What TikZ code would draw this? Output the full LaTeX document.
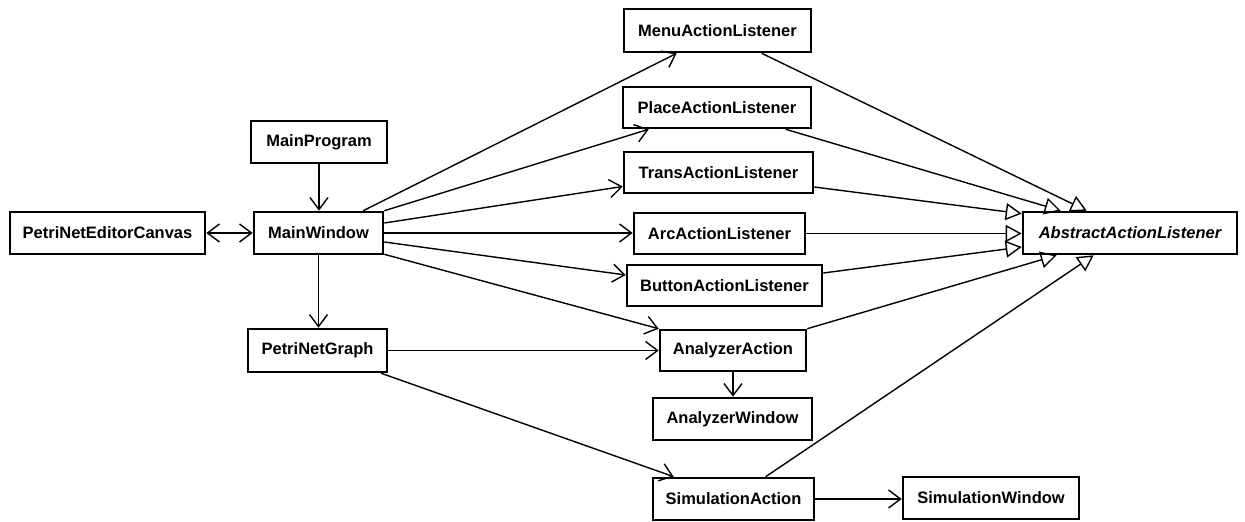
\documentclass[tikz,border=0pt]{standalone}
\usepackage{fontspec}
\setmainfont{Liberation Sans}
\usetikzlibrary{arrows.meta,calc}
\begin{document}
\begin{tikzpicture}[x=1pt,y=-1pt,
  box/.style={draw, line width=2.6pt, inner sep=0pt, fill=white,
    font=\fontsize{16.5}{19}\selectfont\bfseries},
  dep/.style={line width=1.4pt, -{Straight Barb[length=12pt,width=18pt,line width=1.4pt]}},
  bidep/.style={line width=1.4pt, {Straight Barb[length=12pt,width=18pt,line width=1.4pt]}-{Straight Barb[length=12pt,width=18pt,line width=1.4pt]}},
  gen/.style={line width=1.4pt, -{Triangle[open,length=16pt,width=17pt,line width=1.4pt]}}]
\useasboundingbox (0,0) rectangle (1245,522);
\fill[white] (0,0) rectangle (1245,522);

% boxes
\node[box, minimum width=187pt, minimum height=43pt] (menu)   at (717.5,30.5) {MenuActionListener};
\node[box, minimum width=188pt, minimum height=41pt] (place)  at (717,107.5) {PlaceActionListener};
\node[box, minimum width=189pt, minimum height=41pt] (trans)  at (718.5,172.5) {TransActionListener};
\node[box, minimum width=171pt, minimum height=41pt] (arc)    at (719.5,233.5) {ArcActionListener};
\node[box, minimum width=195pt, minimum height=41pt] (button) at (724.5,285.5) {ButtonActionListener};
\node[box, minimum width=146pt, minimum height=41pt] (aa)     at (733,350.5) {AnalyzerAction};
\node[box, minimum width=159pt, minimum height=42pt] (aw)     at (732.5,419) {AnalyzerWindow};
\node[box, minimum width=161pt, minimum height=42pt] (sa)     at (733.5,499) {SimulationAction};
\node[box, minimum width=176pt, minimum height=42pt] (sw)     at (991,498) {SimulationWindow};
\node[box, minimum width=214pt, minimum height=42pt] (abs)    at (1130,233) {\itshape AbstractActionListener};
\node[box, minimum width=136pt, minimum height=42pt] (mp)     at (319,142) {MainProgram};
\node[box, minimum width=129pt, minimum height=42pt] (mw)     at (318.5,233) {MainWindow};
\node[box, minimum width=195pt, minimum height=42pt] (canvas) at (107.5,233) {PetriNetEditorCanvas};
\node[box, minimum width=139pt, minimum height=43pt] (graph)  at (317.5,350.5) {PetriNetGraph};

% dependencies
\draw[dep] (mp.south) -- (mp.south |- mw.north);
\draw[bidep] (canvas.east) -- (mw.west);
\draw[dep] (mw.south) -- (mw.south |- graph.north);
\draw[dep] ($(mw.north east)+(-21,0)$) -- ($(menu.south west)+(54,0)$);
\draw[dep] (mw.north east) -- ($(place.south west)+(27,0)$);
\draw[dep] ($(mw.east)+(0,-10)$) -- ($(trans.west)+(0,14)$);
\draw[dep] (mw.east) -- (mw.east -| arc.west);
\draw[dep] ($(mw.east)+(0,9)$) -- ($(button.west)+(0,-10.5)$);
\draw[dep] ($(mw.south east)+(0,-1)$) -- (aa.north west);
\draw[dep] (graph.east) -- (aa.west);
\draw[dep] (aa.south) -- (aa.south |- aw.north);
\draw[dep] ($(graph.south east)+(-7,0)$) -- ($(sa.north west)+(22,0)$);
\draw[dep] (sa.east) -- (sa.east -| sw.west);

% generalizations
\draw[gen] ($(menu.south west)+(139,0)$) -- ($(abs.north west)+(65,0)$);
\draw[gen] ($(place.south west)+(164,0)$) -- ($(abs.north west)+(39,0)$);
\draw[gen] ($(trans.east)+(0,14.5)$) -- ($(abs.north west)+(0,3)$);
\draw[gen] (arc.east) -- (arc.east -| abs.west);
\draw[gen] ($(button.east)+(0,-12.5)$) -- ($(abs.west)+(0,14)$);
\draw[gen] (aa.north east) -- ($(abs.south west)+(35,0)$);
\draw[gen] ($(sa.north west)+(114,0)$) -- ($(abs.south west)+(72,0)$);
\end{tikzpicture}
\end{document}
